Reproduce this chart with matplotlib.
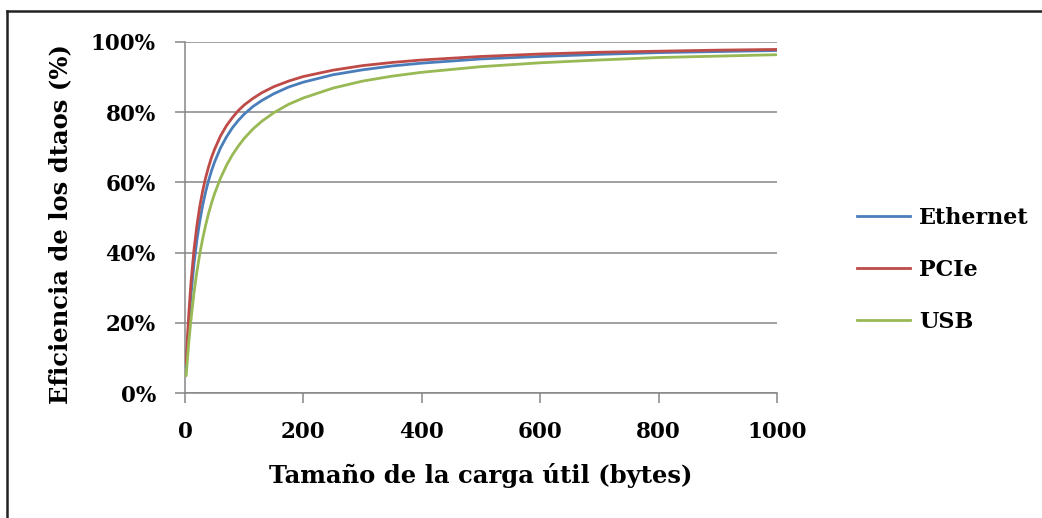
import matplotlib
matplotlib.use("Agg")
import matplotlib.pyplot as plt
from matplotlib.ticker import PercentFormatter
from matplotlib.lines import Line2D

# Payload size in bytes
payload = [2, 3, 4, 5, 7, 10, 15, 20, 25, 30, 35, 40, 45, 50, 60, 70, 80, 90,
           100, 115, 130, 150, 175, 200, 250, 300, 350, 400, 500, 600, 700,
           800, 900, 1000]

# Data efficiency (%) per interface
ethernet = [7.1, 10.3, 13.3, 16.1, 21.2, 27.8, 36.6, 43.5, 49.0, 53.6, 57.4,
            60.6, 63.4, 65.8, 69.8, 72.9, 75.5, 77.6, 79.4, 81.6, 83.3, 85.2,
            87.1, 88.5, 90.6, 92.0, 93.1, 93.9, 95.1, 95.8, 96.4, 96.9, 97.2, 97.5]
pcie = [8.3, 12.0, 15.4, 18.5, 24.1, 31.3, 40.5, 47.6, 53.2, 57.7, 61.4,
        64.5, 67.2, 69.4, 73.2, 76.1, 78.4, 80.4, 82.0, 83.9, 85.5, 87.2,
        88.8, 90.1, 91.9, 93.2, 94.1, 94.8, 95.8, 96.5, 97.0, 97.3, 97.6, 97.8]
usb = [5.0, 7.3, 9.5, 11.6, 15.6, 20.8, 28.3, 34.5, 39.7, 44.1, 47.9,
       51.3, 54.2, 56.8, 61.2, 64.8, 67.8, 70.3, 72.5, 75.2, 77.4, 79.8,
       82.2, 84.0, 86.8, 88.8, 90.2, 91.3, 92.9, 94.0, 94.8, 95.5, 95.9, 96.3]

series_names = ["Ethernet", "PCIe", "USB"]
series_colors = ["#4A7EBB", "#BE4B48", "#98B954"]

x_ticks = [0, 200, 400, 600, 800, 1000]
y_ticks = [0, 20, 40, 60, 80, 100]

FONT = "DejaVu Serif"
TICK_FS = 15.5
LABEL_FS = 17.5
LEG_FS = 16
W, H = 1042, 518

fig = plt.figure(figsize=(W / 100, H / 100), dpi=100)
fig.patch.set_facecolor("white")

ax = fig.add_axes([185 / W, 1 - 393.3 / H, (777 - 185) / W, (393.3 - 41.7) / H])

for vals, name, col in zip([ethernet, pcie, usb], series_names, series_colors):
    ax.plot(payload, vals, color=col, lw=2.0, label=name,
            solid_joinstyle="round", solid_capstyle="round", zorder=3)

ax.set_xlim(0, 1000)
ax.set_ylim(0, 100)
ax.set_xticks(x_ticks)
ax.set_yticks(y_ticks)
ax.yaxis.set_major_formatter(PercentFormatter(decimals=0))

grid_col = "#868686"
ax.grid(axis="y", color=grid_col, lw=1.1, zorder=1)
ax.set_axisbelow(True)
for s in ["top", "right"]:
    ax.spines[s].set_visible(False)
for s in ["left", "bottom"]:
    ax.spines[s].set_color(grid_col)
    ax.spines[s].set_linewidth(1.1)

ax.tick_params(axis="both", direction="out", length=7, width=1.1, color=grid_col,
               labelsize=TICK_FS)
ax.tick_params(axis="x", pad=13)
ax.tick_params(axis="y", pad=14)
for lab in ax.get_xticklabels() + ax.get_yticklabels():
    lab.set_fontfamily(FONT)
    lab.set_fontweight("bold")

ax.set_xlabel("Tamaño de la carga útil (bytes)", fontsize=LABEL_FS, fontfamily=FONT,
              fontweight="bold", labelpad=14)
ax.set_ylabel("Eficiencia de los dtaos (%)", fontsize=LABEL_FS, fontfamily=FONT,
              fontweight="bold")
ax.yaxis.set_label_coords(-0.191, 0.48)

# Legend on the right
handles = [Line2D([0], [0], color=c, lw=2.0) for c in series_colors]
leg = fig.legend(handles, series_names, loc="center left",
                 bbox_to_anchor=(857 / W, 1 - 270 / H), frameon=False,
                 prop={"family": FONT, "weight": "bold", "size": LEG_FS},
                 handlelength=2.4, handletextpad=0.4, labelspacing=1.35,
                 borderaxespad=0, borderpad=0)

# Outer frame edges
fig.add_artist(Line2D([7 / W, 7 / W], [0, 1 - 11 / H], transform=fig.transFigure,
                      color="#222222", lw=1.8))
fig.add_artist(Line2D([7 / W, 1], [1 - 11 / H, 1 - 11 / H], transform=fig.transFigure,
                      color="#222222", lw=1.8))

fig.savefig("out.png", dpi=100)
